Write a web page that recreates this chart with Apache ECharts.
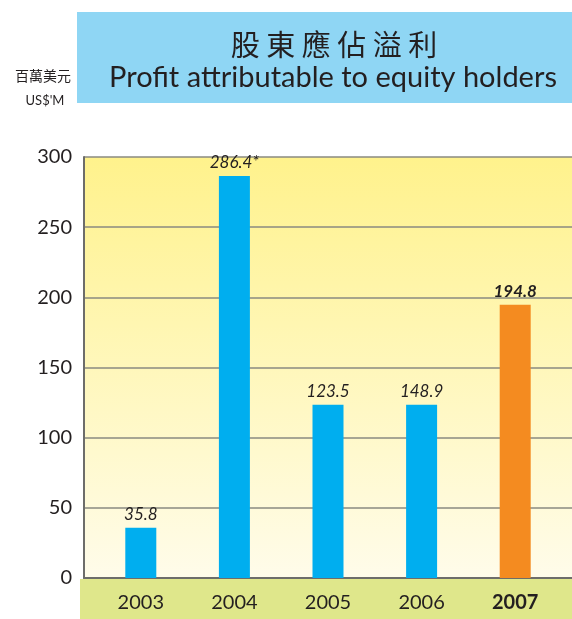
<!DOCTYPE html>
<html>
<head>
<meta charset="utf-8">
<script src="https://cdn.jsdelivr.net/npm/echarts@6/dist/echarts.min.js"></script>
<style>
  html, body { margin: 0; padding: 0; background: #fff; }
  #chart { width: 572px; height: 619px; }
</style>
</head>
<body>
<div id="chart"></div>
<script>
// data
const years = ['2003', '2004', '2005', '2006', '2007'];
// bar heights as drawn (the 2006 bar is drawn at the 2005 height in the original)
const barHeights = [35.8, 286.4, 123.5, 123.5, 194.8];
const barLabels = ['35.8', '286.4*', '123.5', '148.9', '194.8'];
const yTicks = { min: 0, max: 300, step: 50 };

const BLUE = '#00aeef';
const ORANGE = '#f48b20';
const TEXT = '#231f20';

const chart = echarts.init(document.getElementById('chart'));

const option = {
    animation: false,
    title: [
        {
            text: '股 東 應 佔 溢 利',
            left: 329, top: 25, textAlign: 'center',
            textStyle: { fontFamily: 'Noto Sans CJK TC', fontSize: 29, fontWeight: 'normal', color: TEXT }
        },
        {
            text: 'Profit attributable to equity holders',
            left: 328, top: 58, textAlign: 'center',
            textStyle: { fontFamily: 'Lato', fontSize: 29, fontWeight: 'normal', color: TEXT }
        },
        {
            text: '百萬美元',
            left: 38, top: 64, textAlign: 'center',
            textStyle: { fontFamily: 'Noto Sans CJK TC', fontSize: 14, fontWeight: 'normal', color: TEXT }
        },
        {
            text: "US$'M",
            left: 40, top: 89, textAlign: 'center',
            textStyle: { fontFamily: 'Lato', fontSize: 13, fontWeight: 'normal', color: TEXT }
        }
    ],
    graphic: [
        { type: 'rect', z: -20, shape: { x: 77, y: 12, width: 495, height: 91 }, style: { fill: '#8fd6f4' } },
        {
            type: 'rect', z: -20, shape: { x: 84, y: 157, width: 488, height: 421 },
            style: {
                fill: new echarts.graphic.LinearGradient(0, 0, 0, 1, [
                    { offset: 0, color: '#fff28c' },
                    { offset: 1, color: '#fffcea' }
                ])
            }
        },
        { type: 'rect', z: -20, shape: { x: 80, y: 579, width: 492, height: 40 }, style: { fill: '#dfe78b' } }
    ],
    grid: [
        { left: 84, right: 0, top: 157, bottom: 41 },
        { left: 94, right: 10, top: 157, bottom: 41 }
    ],
    xAxis: [
        {
            gridIndex: 0, type: 'category', data: years,
            axisLine: { show: true, lineStyle: { color: '#6d6d6a', width: 2 } },
            axisTick: { show: false }, axisLabel: { show: false }
        },
        {
            gridIndex: 1, type: 'category', data: years,
            axisLine: { show: false }, axisTick: { show: false },
            axisLabel: {
                interval: 0, margin: 15, fontFamily: 'Lato', fontSize: 20, color: TEXT,
                formatter: v => v === '2007' ? '{b|' + v + '}' : v,
                rich: { b: { fontFamily: 'Lato', fontSize: 20, fontWeight: 'bold', color: TEXT } }
            }
        }
    ],
    yAxis: [
        {
            gridIndex: 0, type: 'value',
            min: yTicks.min, max: yTicks.max, interval: yTicks.step,
            axisLine: { show: true, lineStyle: { color: '#6d6d6a', width: 2 } },
            axisTick: { show: false },
            axisLabel: { margin: 12, fontFamily: 'Lato', fontSize: 20, color: TEXT },
            splitLine: { show: true, lineStyle: { color: '#8a8a80', width: 1.5 } }
        },
        {
            gridIndex: 1, type: 'value',
            min: yTicks.min, max: yTicks.max, interval: yTicks.step,
            show: false, splitLine: { show: false }
        }
    ],
    series: [
        {
            type: 'bar',
            xAxisIndex: 1, yAxisIndex: 1,
            barWidth: 31,
            data: barHeights.map((v, i) => ({
                value: v,
                itemStyle: { color: i === years.length - 1 ? ORANGE : BLUE },
                label: i === years.length - 1 ? { fontWeight: 'bold' } : {}
            })),
            label: {
                show: true, position: 'top', distance: 5,
                fontFamily: 'Lato', fontSize: 17, fontStyle: 'italic', color: TEXT,
                formatter: p => barLabels[p.dataIndex]
            }
        }
    ]
};

chart.setOption(option);
</script>
</body>
</html>
